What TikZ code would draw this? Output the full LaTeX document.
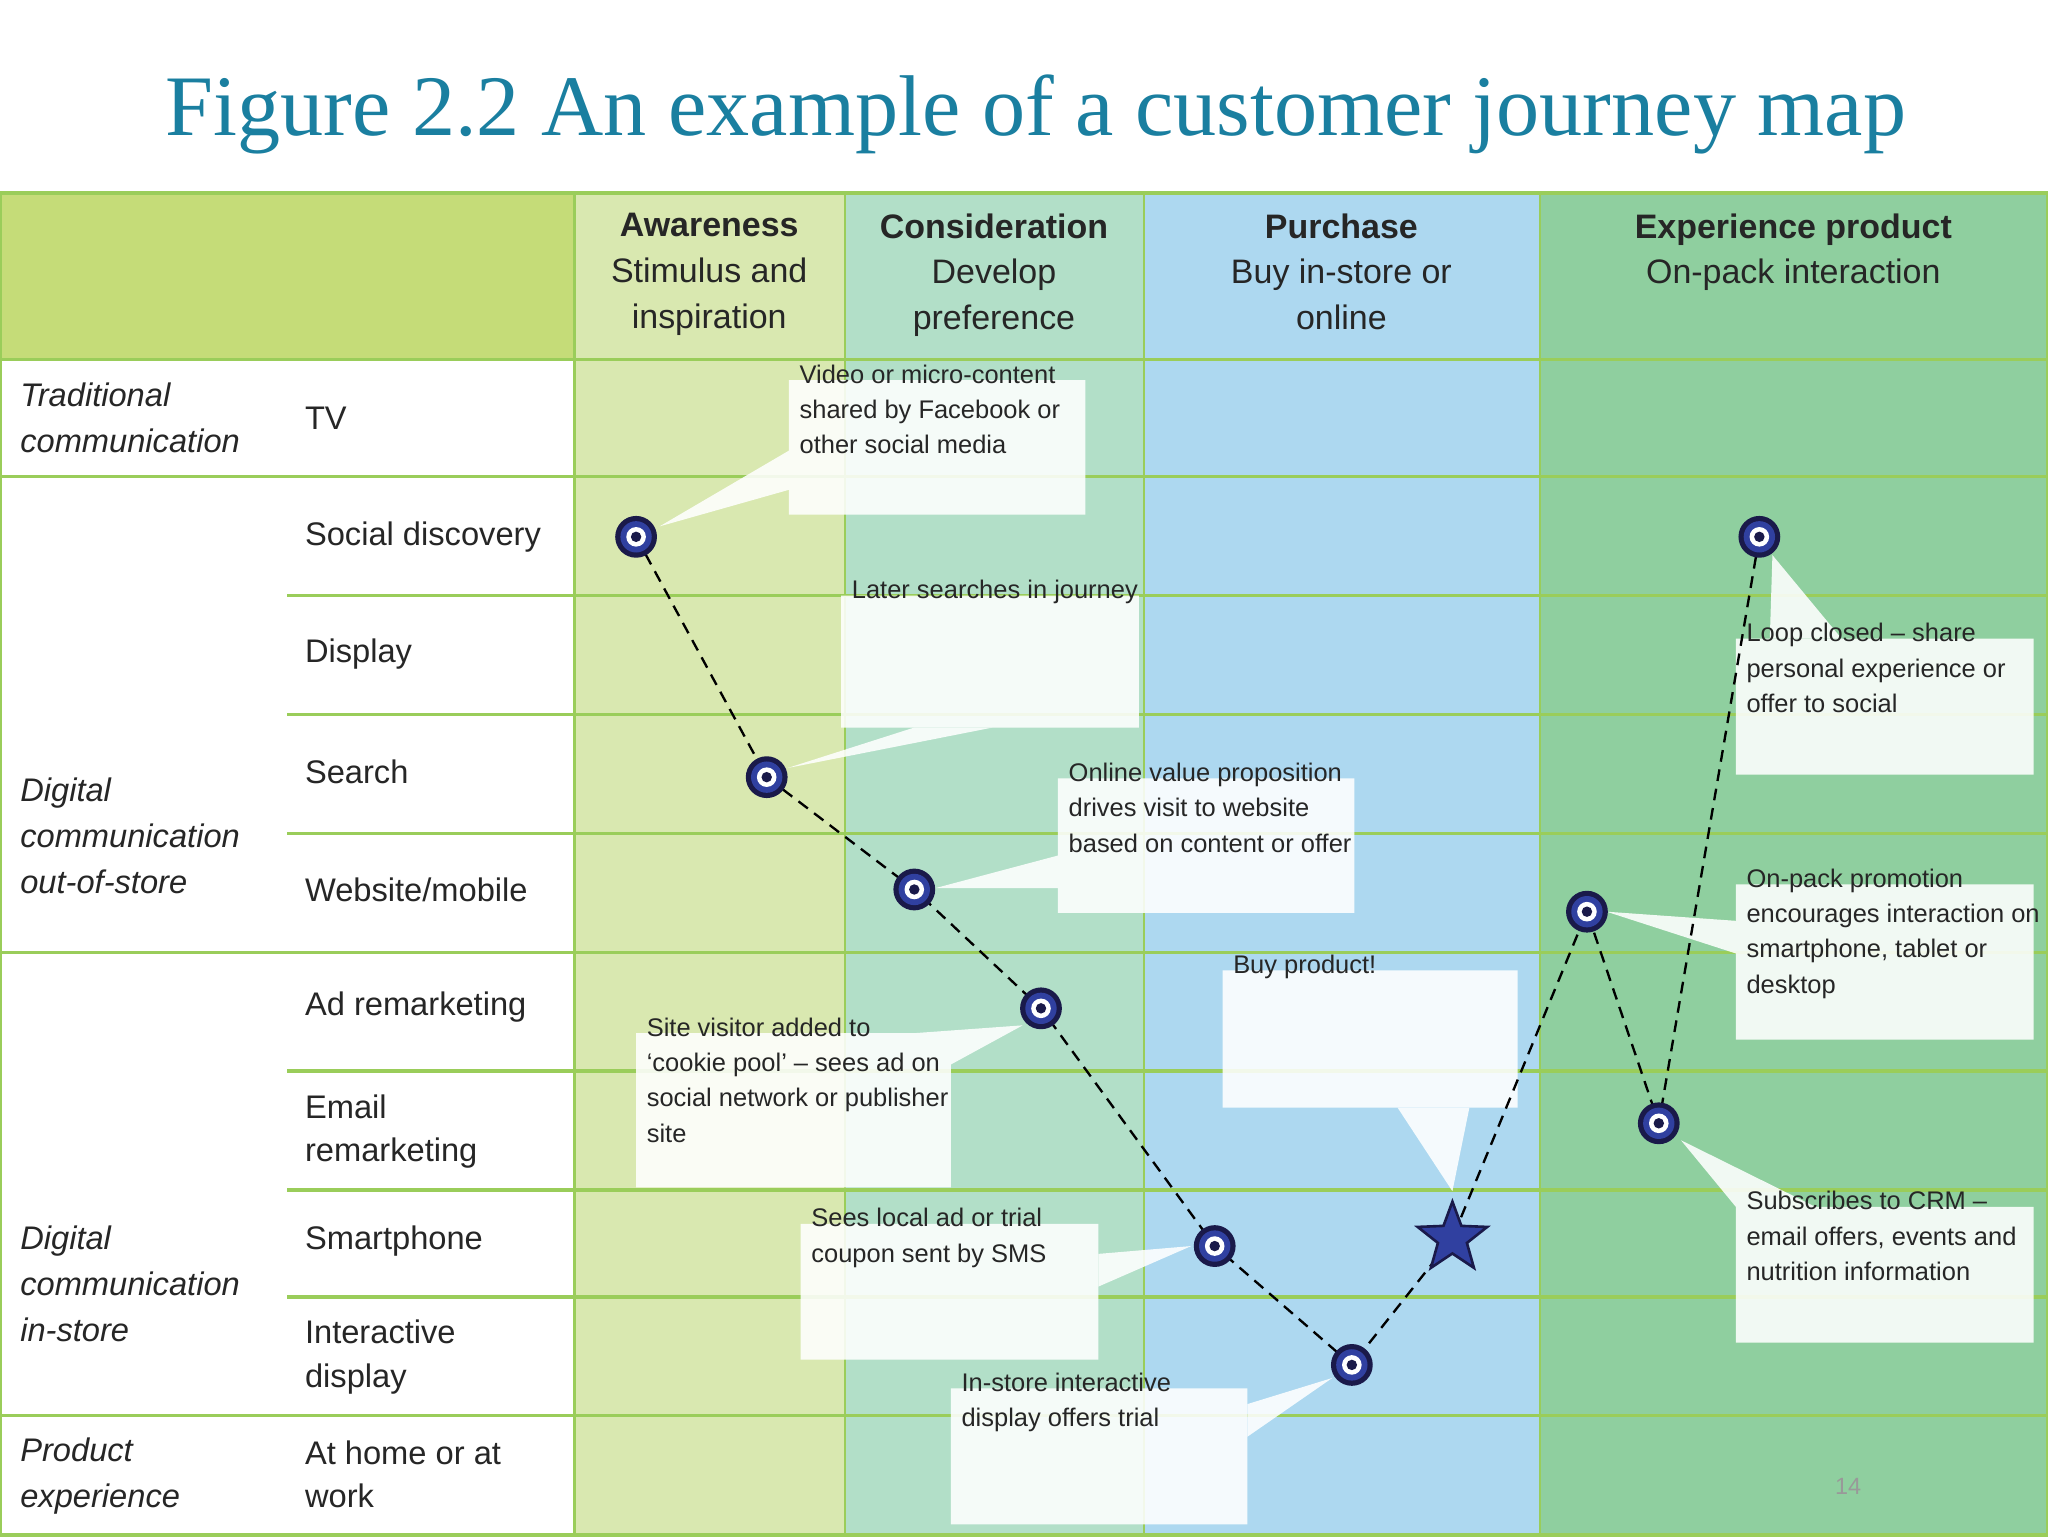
\documentclass[tikz,border=0pt]{standalone}
\usepackage{fontspec}
\setmainfont{Liberation Sans}
\newfontfamily\ttl{Liberation Serif}
\usetikzlibrary{shapes.geometric}
\definecolor{teal1}{HTML}{1A7FA0}
\definecolor{cAw}{HTML}{D9E8B0}
\definecolor{cCo}{HTML}{B2DFC8}
\definecolor{cPu}{HTML}{ADD8F0}
\definecolor{cEx}{HTML}{8FCF9F}
\definecolor{cHd}{HTML}{C5DC78}
\definecolor{gline}{HTML}{9ACD5A}
\definecolor{navy}{HTML}{1A1A4A}
\definecolor{ringb}{HTML}{3040A0}
\tikzset{
 lab/.style={font=\fontsize{25}{33}\selectfont,align=left,anchor=west,text=black!85},
 grp/.style={font=\fontsize{25}{35}\selectfont\itshape,align=left,anchor=west,text=black!85},
 hd/.style={font=\fontsize{26}{35}\selectfont,align=center,anchor=north,text=black!85},
 ct/.style={font=\fontsize{19.5}{27}\selectfont,align=left,anchor=north west,text=black!85,inner sep=0pt},
 pt/.style={circle,fill=navy,minimum size=32pt,inner sep=0pt},
 jl/.style={dashed,line width=1.8pt,dash pattern=on 9pt off 6pt},
}
\newcommand\pnt[3]{\node[pt] (#1) at (#2,#3) {};
 \fill[ringb] (#2,#3) circle (12); \fill[white] (#2,#3) circle (7.5); \fill[navy] (#2,#3) circle (4);}
\newcommand\callout[9]{% x1 y1 x2 y2 tipx tipy base1 base2 text
 \begin{scope}[transparency group,opacity=.88]
 \fill[white] (#1,#2) rectangle (#3,#4);
 \fill[white] (#5,#6) -- #7 -- #8 -- cycle;
 \end{scope}
 \node[ct] at ($(#1,#2)+(8,-12)$) {#9};}
\usetikzlibrary{calc}
\begin{document}
\begin{tikzpicture}[x=1pt,y=-1pt]
\useasboundingbox (0,0) rectangle (1568,1176);
\fill[white] (0,0) rectangle (1568,1176);
\node[font=\ttl\fontsize{66}{70}\selectfont,text=teal1] (title) at (793,88) {Figure 2.2 An example of a customer journey map};
% columns
\fill[white] (0,148) rectangle (440,1176);
\fill[cHd] (0,148) rectangle (440,275);
\fill[cAw] (440,148) rectangle (647,1176);
\fill[cCo] (647,148) rectangle (876,1176);
\fill[cPu] (876,148) rectangle (1179,1176);
\fill[cEx] (1179,148) rectangle (1568,1176);
\foreach \x in {440,647,876,1179} \draw[gline,line width=2pt] (\x,148) -- (\x,1176);
\draw[gline,line width=3pt] (0,148) rectangle (1568,1175);
\foreach \y in {275,365,729,1084} \draw[gline,line width=2.5pt] (0,\y) -- (1568,\y);
\foreach \y in {456,547,638,820,911,993} {\draw[gline,line width=2.5pt] (220,\y) -- (1568,\y);}
% headers
\node[hd] (h1) at (543,160) {\textbf{Awareness}\\Stimulus and\\inspiration};
\node[hd] (h2) at (761,160) {\textbf{Consideration}\\Develop\\preference};
\node[hd] (h3) at (1027,160) {\textbf{Purchase}\\Buy in-store or\\online};
\node[hd] (h4) at (1373,160) {\textbf{Experience product}\\On-pack interaction};
% groups
\node[grp] (g1) at (12,320) {Traditional\\communication};
\node[grp] (g2) at (12,640) {Digital\\communication\\out-of-store};
\node[grp] (g3) at (12,983) {Digital\\communication\\in-store};
\node[grp] (g4) at (12,1130) {Product\\experience};
% rows
\node[lab] (r1) at (230,320) {TV};
\node[lab] (r2) at (230,411) {Social discovery};
\node[lab] (r3) at (230,501) {Display};
\node[lab] (r4) at (230,591) {Search};
\node[lab] (r5) at (230,681) {Website/mobile};
\node[lab] (r6) at (230,771) {Ad remarketing};
\node[lab] (r7) at (230,866) {Email\\remarketing};
\node[lab] (r8) at (230,950) {Smartphone};
\node[lab] (r9) at (230,1039) {Interactive\\display};
\node[lab] (r10) at (230,1129) {At home or at\\work};
% callouts
\callout{604}{291}{831}{394}{505}{403}{(604,345)}{(604,375)}{Video or micro-content\\shared by Facebook or\\other social media}
\callout{644}{456}{872}{557}{603}{588}{(700,557)}{(760,557)}{Later searches in journey}
\callout{810}{596}{1037}{699}{716}{680}{(810,655)}{(810,680)}{Online value proposition\\drives visit to website\\based on content or offer}
\callout{936}{743}{1162}{848}{1112}{912}{(1070,848)}{(1125,848)}{Buy product!}
\callout{487}{791}{728}{909}{783}{785}{(700,791)}{(728,815)}{Site visitor added to\\‘cookie pool’ – sees ad on\\social network or publisher\\site}
\callout{613}{937}{841}{1041}{912}{954}{(841,960)}{(841,985)}{Sees local ad or trial\\coupon sent by SMS}
\callout{728}{1063}{955}{1167}{1020}{1055}{(955,1075)}{(955,1100)}{In-store interactive\\display offers trial}
\callout{1329}{489}{1557}{593}{1357}{425}{(1355,489)}{(1410,489)}{Loop closed – share\\personal experience or\\offer to social}
\callout{1329}{677}{1557}{796}{1230}{698}{(1329,705)}{(1329,730)}{On-pack promotion\\encourages interaction on\\smartphone, tablet or\\desktop}
\callout{1329}{924}{1557}{1028}{1287}{873}{(1329,924)}{(1390,924)}{Subscribes to CRM –\\email offers, events and\\nutrition information}
% journey
\coordinate (p7) at (1112,948);
\draw[jl] (487,411) -- (587,595) -- (700,681) -- (797,772) -- (930,954) -- (1035,1045) -- (p7) -- (1215,698) -- (1270,860) -- (1347,411);
\pnt{p1}{487}{411}\pnt{p2}{587}{595}\pnt{p3}{700}{681}\pnt{p4}{797}{772}
\pnt{p5}{930}{954}\pnt{p6}{1035}{1045}\pnt{p8}{1215}{698}\pnt{p9}{1270}{860}\pnt{p10}{1347}{411}
\node[star,star points=5,star point ratio=2.4,fill=ringb,draw=navy,line width=2pt,minimum size=56pt,inner sep=0pt] (star) at (p7) {};
\node[font=\fontsize{18}{20}\selectfont,text=black!40] (pg) at (1415,1138) {14};
\end{tikzpicture}
\end{document}
